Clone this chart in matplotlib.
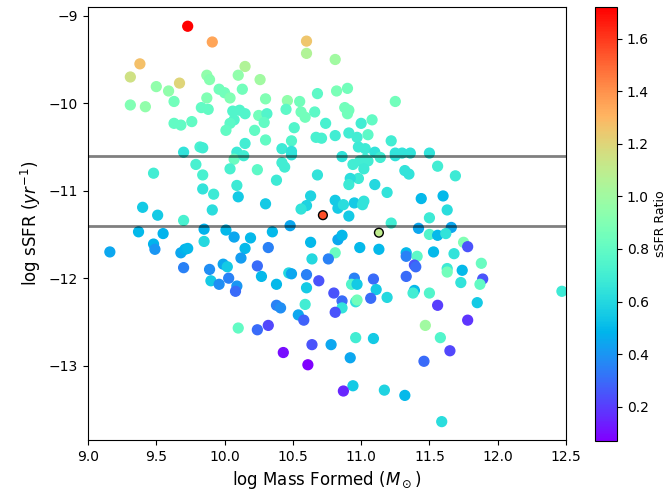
import numpy as np
import matplotlib
matplotlib.use("Agg")
import matplotlib.pyplot as plt

# log mass formed, log sSFR, sSFR ratio
mass = [
    9.73, 9.91, 9.38, 9.31, 9.50, 9.59, 9.67, 9.87, 9.89, 10.15, 10.10, 10.13, 9.96, 10.00, 10.04,
    9.87, 9.63, 9.31, 9.42, 9.83, 9.88, 10.06, 10.11, 10.15, 10.07, 10.04, 10.01, 9.63, 9.68, 9.76,
    9.70, 9.82, 9.84, 10.15, 10.09, 10.60, 10.60, 10.81, 10.26, 10.30, 10.46, 10.55, 10.68, 10.82, 10.90,
    11.25, 10.45, 10.56, 10.59, 10.66, 10.88, 10.91, 10.90, 10.25, 10.31, 10.29, 10.22, 10.30, 10.51, 10.74,
    10.49, 10.67, 10.71, 10.81, 10.91, 11.00, 11.08, 10.97, 11.05, 11.22, 10.98, 11.03, 11.10, 10.42, 10.49,
    11.25, 11.30, 11.36, 11.50, 10.07, 10.14, 9.79, 9.84, 10.04, 9.48, 9.84, 9.92, 10.09, 10.10, 9.40,
    9.51, 9.91, 9.70, 9.37, 9.55, 9.85, 10.01, 10.07, 9.85, 9.16, 9.48, 9.49, 9.68, 9.71, 9.73,
    10.15, 10.12, 9.70, 9.89, 9.99, 10.02, 10.03, 9.90, 9.96, 10.09, 10.08, 10.49, 10.24, 10.42, 10.44,
    10.38, 10.68, 10.30, 10.63, 10.60, 10.56, 10.81, 10.83, 10.87, 10.95, 11.02, 11.01, 10.91, 10.86, 11.03,
    10.99, 11.05, 11.14, 11.25, 10.94, 11.02, 10.98, 10.92, 10.91, 11.10, 11.19, 11.22, 10.48, 10.35, 10.19,
    10.32, 10.24, 10.27, 10.38, 10.47, 10.49, 10.63, 10.83, 10.86, 10.81, 10.76, 10.64, 10.60, 10.69, 10.60,
    10.80, 10.99, 11.13, 10.95, 10.93, 10.97, 11.09, 11.11, 11.32, 11.35, 11.56, 11.69, 11.44, 11.60, 11.63,
    11.50, 11.42, 11.66, 11.50, 11.56, 11.62, 11.75, 11.78, 11.33, 11.33, 11.41, 11.53, 11.68, 11.39, 11.40,
    11.33, 11.63, 11.63, 11.74, 11.88, 11.89, 11.87, 11.73, 11.39, 11.38, 11.50, 12.47, 10.10, 10.86, 10.86,
    10.81, 10.96, 10.97, 11.07, 11.19, 10.59, 10.38, 10.41, 10.54, 10.58, 10.24, 10.32, 10.64, 10.78, 10.96,
    11.09, 10.43, 10.61, 10.92, 10.94, 10.87, 11.17, 11.56, 11.85, 11.78, 11.47, 11.58, 11.65, 11.46, 11.32,
    11.59,
]
ssfr = [
    -9.12, -9.30, -9.55, -9.70, -9.81, -9.86, -9.77, -9.68, -9.73, -9.58, -9.68, -9.84, -9.84, -9.88, -9.94,
    -9.94, -9.98, -10.02, -10.04, -10.05, -10.07, -10.09, -10.08, -10.12, -10.19, -10.23, -10.31, -10.23, -10.25, -10.21,
    -10.56, -10.50, -10.51, -10.46, -10.56, -9.29, -9.43, -9.50, -9.73, -9.95, -9.97, -9.98, -9.89, -9.86, -9.83,
    -9.98, -10.07, -10.10, -10.16, -10.10, -10.05, -10.08, -10.12, -10.14, -10.12, -10.22, -10.31, -10.42, -10.28, -10.23,
    -10.43, -10.39, -10.40, -10.37, -10.34, -10.23, -10.19, -10.39, -10.36, -10.43, -10.50, -10.52, -10.56, -10.52, -10.55,
    -10.57, -10.57, -10.57, -10.57, -10.64, -10.60, -10.70, -10.82, -10.75, -10.80, -10.98, -11.04, -10.94, -11.07, -11.19,
    -11.28, -11.22, -11.34, -11.47, -11.49, -11.44, -11.45, -11.53, -11.58, -11.70, -11.61, -11.67, -11.71, -11.67, -11.66,
    -11.66, -11.77, -11.88, -11.90, -11.84, -11.87, -12.00, -12.03, -12.07, -12.09, -12.15, -10.59, -10.76, -10.68, -10.73,
    -10.88, -10.82, -11.15, -11.06, -11.17, -11.21, -11.11, -11.20, -11.16, -11.14, -11.12, -11.16, -11.29, -10.61, -10.64,
    -10.66, -10.66, -10.62, -10.60, -10.70, -10.75, -10.86, -10.86, -10.93, -10.93, -11.02, -11.37, -11.40, -11.47, -11.54,
    -11.65, -11.86, -11.98, -12.07, -11.94, -11.95, -11.59, -11.56, -11.51, -11.71, -11.78, -11.78, -11.96, -12.03, -12.11,
    -12.17, -11.65, -11.67, -12.00, -12.07, -12.07, -12.01, -12.13, -10.77, -10.81, -10.72, -10.83, -11.09, -11.06, -11.22,
    -11.31, -11.43, -11.42, -11.50, -11.51, -11.49, -11.59, -11.64, -11.71, -11.75, -11.75, -11.70, -11.72, -11.85, -11.87,
    -11.98, -11.89, -11.93, -11.91, -11.83, -12.01, -12.07, -12.05, -12.14, -12.17, -12.17, -12.15, -12.57, -12.26, -12.34,
    -12.39, -12.27, -12.25, -12.23, -12.22, -12.30, -12.31, -12.34, -12.42, -12.48, -12.59, -12.54, -12.76, -12.76, -12.68,
    -12.69, -12.85, -12.99, -12.91, -13.23, -13.29, -13.28, -12.31, -12.28, -12.48, -12.54, -12.68, -12.83, -12.95, -13.34,
    -13.64,
]
ratio = [
    1.72, 1.35, 1.27, 1.15, 0.95, 0.95, 1.20, 0.95, 0.92, 1.05, 0.95, 0.85, 0.85, 0.85, 0.90,
    0.90, 0.85, 0.90, 0.95, 0.80, 0.80, 0.75, 0.75, 0.75, 0.75, 0.78, 0.80, 0.80, 0.80, 0.80,
    0.65, 0.72, 0.70, 0.70, 0.68, 1.25, 1.05, 1.00, 1.00, 0.90, 0.95, 0.85, 0.78, 0.88, 0.85,
    0.85, 0.78, 0.85, 0.85, 0.78, 0.85, 0.85, 0.85, 0.85, 0.75, 0.80, 0.80, 0.80, 0.75, 0.72,
    0.75, 0.72, 0.72, 0.70, 0.70, 0.70, 0.80, 0.70, 0.78, 0.70, 0.68, 0.68, 0.65, 0.68, 0.65,
    0.65, 0.65, 0.65, 0.65, 0.82, 0.70, 0.72, 0.72, 0.72, 0.70, 0.65, 0.68, 0.68, 0.55, 0.55,
    0.55, 0.62, 0.72, 0.50, 0.48, 0.48, 0.50, 0.45, 0.60, 0.45, 0.48, 0.40, 0.45, 0.48, 0.50,
    0.50, 0.42, 0.35, 0.38, 0.45, 0.55, 0.35, 0.55, 0.38, 0.40, 0.30, 0.65, 0.78, 0.70, 0.70,
    0.68, 0.65, 0.55, 0.58, 0.58, 0.65, 0.55, 0.55, 0.62, 0.55, 0.65, 0.65, 0.55, 0.65, 0.70,
    0.70, 0.70, 0.70, 0.65, 0.70, 0.68, 0.68, 0.62, 0.68, 0.60, 0.65, 0.70, 0.45, 0.50, 0.50,
    0.35, 0.30, 0.50, 0.50, 0.60, 0.45, 0.50, 0.45, 0.50, 0.82, 0.35, 0.60, 0.35, 0.25, 0.55,
    0.25, 0.50, 0.50, 0.35, 0.75, 0.55, 0.30, 0.55, 0.65, 0.65, 0.70, 0.68, 0.50, 0.50, 0.62,
    0.68, 0.45, 0.45, 0.75, 0.50, 0.65, 0.90, 0.25, 0.50, 0.35, 0.78, 0.50, 0.65, 0.25, 0.30,
    0.30, 0.68, 0.85, 0.50, 0.82, 0.25, 0.80, 0.65, 0.50, 0.70, 0.75, 0.68, 0.80, 0.30, 0.65,
    0.25, 0.65, 0.85, 0.30, 0.60, 0.70, 0.35, 0.38, 0.45, 0.28, 0.30, 0.22, 0.25, 0.45, 0.70,
    0.55, 0.10, 0.07, 0.45, 0.55, 0.15, 0.58, 0.20, 0.55, 0.18, 1.00, 0.75, 0.22, 0.30, 0.50,
    0.62,
]

# two highlighted objects (black outline)
hl_mass = [10.72, 11.13]
hl_ssfr = [-11.28, -11.48]
hl_ratio = [1.55, 1.10]

cuts = [-10.6, -11.4]

vmin, vmax = 0.07, 1.72

fig = plt.figure(figsize=(6.67, 4.98), dpi=100)
ax = fig.add_axes([88 / 667, 58 / 498, 478 / 667, 433 / 498])
cax = fig.add_axes([595 / 667, 57 / 498, 22 / 667, 434 / 498])

sc = ax.scatter(mass, ssfr, c=ratio, cmap="rainbow", vmin=vmin, vmax=vmax, s=50)
ax.scatter(hl_mass, hl_ssfr, c=hl_ratio, cmap="rainbow", vmin=vmin, vmax=vmax,
           s=40, edgecolors="k", linewidths=1, zorder=3)

for yc in cuts:
    ax.axhline(yc, color="k", alpha=0.5, lw=2, zorder=4)

ax.set_xlim(9.0, 12.5)
ax.set_ylim(-13.85, -8.9)
ax.set_xticks(np.arange(9.0, 12.51, 0.5))
ax.set_yticks([-9, -10, -11, -12, -13])
ax.set_xlabel(r"log Mass Formed ($M_\odot$)", fontsize=12)
ax.set_ylabel(r"log sSFR ($yr^{-1}$)", fontsize=12)

cb = fig.colorbar(sc, cax=cax)
cb.set_ticks([0.2, 0.4, 0.6, 0.8, 1.0, 1.2, 1.4, 1.6])
cb.set_label("sSFR Ratio", fontsize=9)

fig.savefig("out.png", dpi=100)
